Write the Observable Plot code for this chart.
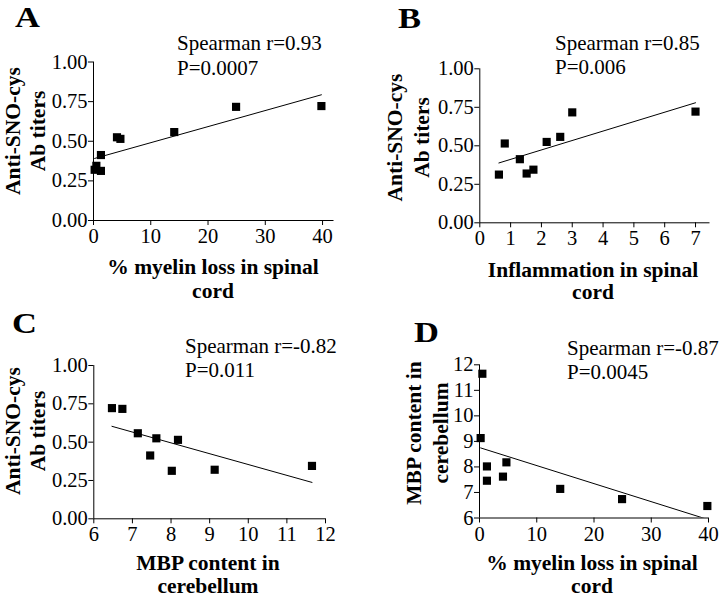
<!DOCTYPE html>
<html><head><meta charset="utf-8">
<script src="https://cdn.jsdelivr.net/npm/d3@7"></script>
<script src="https://cdn.jsdelivr.net/npm/@observablehq/plot@0.6"></script>
<style>
html,body{margin:0;padding:0;background:#fff;}
#fig{position:relative;width:720px;height:598px;overflow:hidden;background:#fff;}
#fig > svg{position:absolute;}
</style></head><body><div id="fig"></div>
<script>
// ---- data (one entry per animal) ----
const myelinLoss      = [0.2, 0.5, 1.3, 1.3, 4.1, 4.7, 14.1, 24.9, 39.8];
const antiSnoCysTiter = [0.32, 0.345, 0.313, 0.413, 0.525, 0.515, 0.558, 0.717, 0.722];
const inflammation    = [1.52, 1.74, 0.62, 1.30, 2.17, 0.81, 2.61, 3.0, 7.0];
const mbpCerebellum   = [9.13, 11.65, 8.02, 7.46, 7.62, 8.18, 7.14, 6.74, 6.47];

// ---- texts and ticks ----
const panelLetters = ["A", "B", "C", "D"];
const spearmanR = ["0.93", "0.85", "-0.82", "-0.87"];
const pValues = ["0.0007", "0.006", "0.011", "0.0045"];
const xLabels = [["% myelin loss in spinal", "cord"], ["Inflammation in spinal", "cord"], ["MBP content in", "cerebellum"], ["% myelin loss in spinal", "cord"]];
const yLabels = [["Anti-SNO-cys", "Ab titers"], ["Anti-SNO-cys", "Ab titers"], ["Anti-SNO-cys", "Ab titers"], ["MBP content in", "cerebellum"]];
const titerTicks = [0, 0.25, 0.5, 0.75, 1];
const myelinTicks = [0, 10, 20, 30, 40];
const inflammationTicks = [0, 1, 2, 3, 4, 5, 6, 7];
const mbpTicks = [6, 7, 8, 9, 10, 11, 12];

// ---- panel definitions ----
const panels = [
  {x: myelinLoss, y: antiSnoCysTiter, xTicks: myelinTicks, yTicks: titerTicks, xDomain: [0, 42], yDomain: [0, 1], yFmt: ".2f",
   left: 0, top: 0, w: 360, h: 300, mt: 61.5, mb: 80, ml: 93, mr: 26.5,
   letter: [15, 27], stat: [177, 50, 75], xl: [213, 273.5, 298], yl: [19.5, 45, 131]},
  {x: inflammation, y: antiSnoCysTiter, xTicks: inflammationTicks, yTicks: titerTicks, xDomain: [0, 7.47], yDomain: [0, 1], yFmt: ".2f",
   left: 360, top: 0, w: 360, h: 300, mt: 68.3, mb: 77.7, ml: 119.3, mr: 10.5,
   letter: [398, 28], stat: [555, 50, 74], xl: [593, 276.5, 298.5], yl: [402, 429, 137.5]},
  {x: mbpCerebellum, y: antiSnoCysTiter, xTicks: mbpTicks, yTicks: titerTicks, xDomain: [6, 12], yDomain: [0, 1], yFmt: ".2f",
   left: 0, top: 300, w: 360, h: 298, mt: 65, mb: 79.7, ml: 93.3, mr: 35,
   letter: [12, 333], stat: [185, 353, 377], xl: [208, 569.5, 593], yl: [19.5, 45, 431]},
  {x: myelinLoss, y: mbpCerebellum, xTicks: myelinTicks, yTicks: mbpTicks, xDomain: [0, 40], yDomain: [6, 12], yFmt: "d",
   left: 360, top: 300, w: 360, h: 298, mt: 64.3, mb: 80.5, ml: 119, mr: 12,
   letter: [414, 342], stat: [567, 355, 379], xl: [592, 569.5, 593], yl: [421, 448, 433]}
];

const FONT = "'Liberation Serif', 'Times New Roman', Times, serif";
const fig = document.getElementById("fig");

panels.forEach((p) => {
  const data = p.x.map((xv, i) => ({x: xv, y: p.y[i]}));
  const chart = Plot.plot({
    width: p.w, height: p.h,
    marginTop: p.mt, marginBottom: p.mb, marginLeft: p.ml, marginRight: p.mr,
    style: {fontFamily: FONT, fontSize: "20.5px", color: "black", background: "transparent", overflow: "visible"},
    x: {domain: p.xDomain},
    y: {domain: p.yDomain},
    marks: [
      Plot.ruleX([p.xDomain[0]], {stroke: "black", strokeWidth: 1}),
      Plot.ruleY([p.yDomain[0]], {stroke: "black", strokeWidth: 1}),
      Plot.axisX({ticks: p.xTicks, tickFormat: d3.format("d"), tickSize: 5, tickPadding: 3, label: null, fontSize: 20.5, stroke: "black"}),
      Plot.axisY({ticks: p.yTicks, tickFormat: d3.format(p.yFmt), tickSize: 5, tickPadding: 1, label: null, fontSize: 20.5, stroke: "black"}),
      Plot.linearRegressionY(data, {x: "x", y: "y", ci: 0, stroke: "black", strokeWidth: 1, clip: true}),
      Plot.dot(data, {x: "x", y: "y", symbol: "square", r: 4.6, fill: "black", stroke: "none"})
    ]
  });
  chart.style.left = p.left + "px";
  chart.style.top = p.top + "px";
  fig.appendChild(chart);
});

// ---- text overlay: panel letters, statistics, axis titles ----
const overlay = d3.select(fig).append("svg")
  .attr("width", 720).attr("height", 598)
  .style("left", "0px").style("top", "0px").style("pointer-events", "none")
  .attr("font-family", FONT).attr("fill", "black");

panels.forEach((p, i) => {
  overlay.append("text")
    .attr("transform", `translate(${p.letter[0]},${p.letter[1]}) scale(1.15,1)`)
    .attr("font-size", 30).attr("font-weight", "bold").text(panelLetters[i]);
  overlay.append("text").attr("x", p.stat[0]).attr("y", p.stat[1])
    .attr("font-size", 21).text("Spearman r=" + spearmanR[i]);
  overlay.append("text").attr("x", p.stat[0]).attr("y", p.stat[2])
    .attr("font-size", 21).text("P=" + pValues[i]);
  xLabels[i].forEach((line, j) => {
    overlay.append("text").attr("x", p.xl[0]).attr("y", p.xl[1 + j])
      .attr("text-anchor", "middle").attr("font-size", 21.5).attr("font-weight", "bold").text(line);
  });
  yLabels[i].forEach((line, j) => {
    overlay.append("text")
      .attr("transform", `translate(${p.yl[j]},${p.yl[2]}) rotate(-90)`)
      .attr("text-anchor", "middle").attr("font-size", 21.5).attr("font-weight", "bold").text(line);
  });
});
</script>
</body></html>
